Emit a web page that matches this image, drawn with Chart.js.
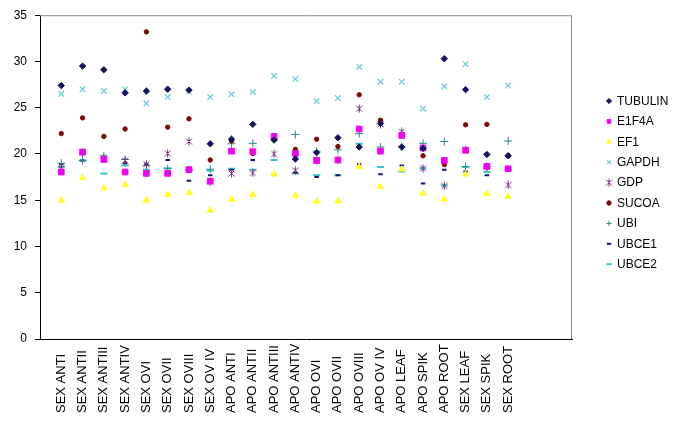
<!DOCTYPE html>
<html><head><meta charset="utf-8">
<script src="https://cdn.jsdelivr.net/npm/chart.js@4.4.1/dist/chart.umd.min.js"></script>
<style>html,body{margin:0;padding:0;background:#fff;}</style>
</head><body>
<canvas id="c" width="685" height="426"></canvas>
<script>
const categories = ["SEX ANTI","SEX ANTII","SEX ANTIII","SEX ANTIV","SEX OVI","SEX OVII","SEX OVIII","SEX OV IV",
  "APO ANTI","APO ANTII","APO ANTIII","APO ANTIV","APO OVI","APO OVII","APO OVIII","APO OV IV","APO LEAF","APO SPIK",
  "APO ROOT","SEX LEAF","SEX SPIK","SEX ROOT"];
const yTicks = [0,5,10,15,20,25,30,35];

const TUBULIN = [27.4, 29.5, 29.1, 26.6, 26.8, 27.0, 26.9, 21.1, 21.6, 23.2, 21.5, 19.45, 20.15, 21.75, 20.75, 23.3, 20.75, 20.6, 30.3, 26.95, 19.95, 19.8];
const E1F4A   = [18.05, 20.2, 19.4, 18.05, 17.9, 17.9, 18.3, 17.05, 20.3, 20.25, 21.9, 20.05, 19.3, 19.35, 22.7, 20.3, 22.0, 20.65, 19.3, 20.4, 18.65, 18.4];
const EF1     = [15.0, 17.4, 16.3, 16.7, 15.0, 15.6, 15.8, 13.9, 15.1, 15.6, 17.8, 15.5, 14.9, 14.9, 18.6, 16.45, 18.35, 15.75, 15.1, 17.8, 15.7, 15.4];
const GAPDH   = [26.5, 27.0, 26.8, 27.0, 25.45, 26.15, 26.75, 26.15, 26.45, 26.7, 28.45, 28.1, 25.7, 26.05, 29.4, 27.8, 27.8, 24.9, 27.3, 29.7, 26.15, 27.4];
const GDP     = [18.45, 20.2, 19.5, 19.3, 18.9, 20.05, 21.35, 17.05, 17.9, 17.95, 20.0, 18.2, 19.3, 19.35, 24.9, 23.2, 22.4, 18.45, 16.55, 20.45, 18.65, 16.65];
const SUCOA   = [22.2, 23.9, 21.9, 22.7, 33.2, 22.9, 23.8, 19.35, 21.4, 20.05, 21.6, 20.5, 21.6, 20.8, 26.4, 23.65, 22.0, 19.8, 18.85, 23.15, 23.2, 19.8];
const UBI     = [19.0, 19.3, 19.8, 19.4, 18.75, 18.4, 18.3, 18.35, 21.1, 21.15, 21.6, 22.1, 20.3, 20.45, 22.2, 20.75, 20.8, 21.15, 21.35, 18.65, 18.6, 21.4];
const UBCE1   = [18.9, 19.3, 19.6, 19.0, 18.9, 19.35, 17.1, 17.7, 18.3, 19.35, 17.8, 18.0, 17.5, 17.7, 18.9, 17.8, 18.75, 16.8, 18.3, 18.1, 17.7, 18.4];
const UBCE2   = [18.6, 19.3, 17.9, 18.75, 18.3, 18.45, 18.3, 18.2, 18.4, 18.3, 19.35, 17.9, 17.7, 17.7, 21.1, 18.6, 18.1, 18.45, 16.6, 18.6, 18.05, 18.3];

function makeStar(color){
  const c=document.createElement('canvas'); c.width=9; c.height=9;
  const g=c.getContext('2d'); g.strokeStyle=color; g.lineWidth=1;
  g.beginPath(); g.moveTo(1.5,1.5); g.lineTo(7.5,7.5); g.moveTo(7.5,1.5); g.lineTo(1.5,7.5);
  g.moveTo(4.5,0.5); g.lineTo(4.5,8.5); g.stroke(); return c;
}

const seriesDefs = [
  {label:'TUBULIN', data:TUBULIN, color:'#14145e', style:'rectRot',  r:3.2, bw:1},
  {label:'E1F4A',   data:E1F4A,   color:'#f000f0', style:'rect',     r:4,   bw:1},
  {label:'EF1',     data:EF1,     color:'#ffff20', style:'triangle', r:3.6, bw:1},
  {label:'GAPDH',   data:GAPDH,   color:'#6ccfd6', style:'crossRot', r:4,   bw:1.3},
  {label:'GDP',     data:GDP,     color:'#7a2a7a', style:makeStar('#7a2a7a'), r:4, bw:1},
  {label:'SUCOA',   data:SUCOA,   color:'#7a0a0a', style:'circle',   r:2.2, bw:1},
  {label:'UBI',     data:UBI,     color:'#2a8a8a', style:'cross',    r:4,   bw:1},
  {label:'UBCE1',   data:UBCE1,   color:'#10106a', style:'line',     r:2.2, bw:2},
  {label:'UBCE2',   data:UBCE2,   color:'#33c4cc', style:'line',     r:3.6, bw:2}
];

const datasets = seriesDefs.map(s => ({
  label: s.label,
  data: s.data.map((v,i)=>({x:i+1, y:v})),
  pointStyle: s.style,
  pointRadius: s.r,
  borderWidth: s.bw,
  borderColor: s.color,
  backgroundColor: s.color,
  showLine: false
}));

Chart.defaults.font.family = '"Liberation Sans", Arial, sans-serif';
Chart.defaults.color = '#000';

const framePlugin = {id:'frame', beforeDatasetsDraw(chart){
  const {ctx, chartArea:a} = chart; ctx.save();
  ctx.strokeStyle='#8c8c8c'; ctx.lineWidth=1; ctx.beginPath();
  ctx.moveTo(a.left, a.top+0.5); ctx.lineTo(a.right-0.5, a.top+0.5); ctx.lineTo(a.right-0.5, a.bottom);
  ctx.stroke(); ctx.restore();
}};

const catLabelPlugin = {id:'catLabels', afterDraw(chart){
  const sx = chart.scales.x, ctx = chart.ctx; ctx.save();
  ctx.font = '13px "Liberation Sans", Arial, sans-serif'; ctx.fillStyle='#000';
  ctx.textAlign='left'; ctx.textBaseline='middle';
  const yStart = chart.chartArea.bottom + 74;
  categories.forEach((lab,i)=>{
    const x = sx.getPixelForValue(i+1);
    ctx.save(); ctx.translate(x, yStart); ctx.rotate(-Math.PI/2); ctx.fillText(lab,0,0); ctx.restore();
  });
  ctx.restore();
}};

const legendPlugin = {id:'sideLegend', afterDraw(chart){
  const ctx = chart.ctx; ctx.save();
  chart.data.datasets.forEach((ds,i)=>{
    const y = 101 + i*20.4;
    ctx.fillStyle = ds.backgroundColor; ctx.strokeStyle = ds.borderColor; ctx.lineWidth = ds.borderWidth;
    Chart.helpers.drawPoint(ctx, {pointStyle: ds.pointStyle, radius: Math.min(ds.pointRadius, 2.6), rotation:0, borderWidth: ds.borderWidth}, 609, y);
    ctx.fillStyle='#000'; ctx.font='12px "Liberation Sans", Arial, sans-serif';
    ctx.textAlign='left'; ctx.textBaseline='middle';
    ctx.fillText(ds.label, 617, y+0.5);
  });
  ctx.restore();
}};

new Chart(document.getElementById('c'), {
  type: 'scatter',
  data: { datasets },
  options: {
    responsive: false,
    animation: false,
    events: [],
    layout: { padding: { top: 8, right: 113, bottom: 0, left: 0 } },
    plugins: { legend: { display: false }, tooltip: { enabled: false } },
    scales: {
      x: {
        type: 'linear', min: 0, max: 25,
        afterBuildTicks: s => { s.ticks = categories.map((c,i)=>({value:i+1})); },
        afterFit: s => { s.height = 87; },
        ticks: { display: false },
        grid: { display: true, drawOnChartArea: false, drawTicks: false },
        border: { display: true, color: '#000', width: 1 }
      },
      y: {
        min: 0, max: 35,
        afterBuildTicks: s => { s.ticks = yTicks.map(v=>({value:v})); },
        afterFit: s => { s.width = 40; },
        ticks: { padding: 8, font: { size: 12 }, color: '#000' },
        grid: { drawOnChartArea: false, drawTicks: true, tickLength: 5, color: '#000' },
        border: { display: true, color: '#000', width: 1 }
      }
    }
  },
  plugins: [framePlugin, catLabelPlugin, legendPlugin]
});
</script>
</body></html>
